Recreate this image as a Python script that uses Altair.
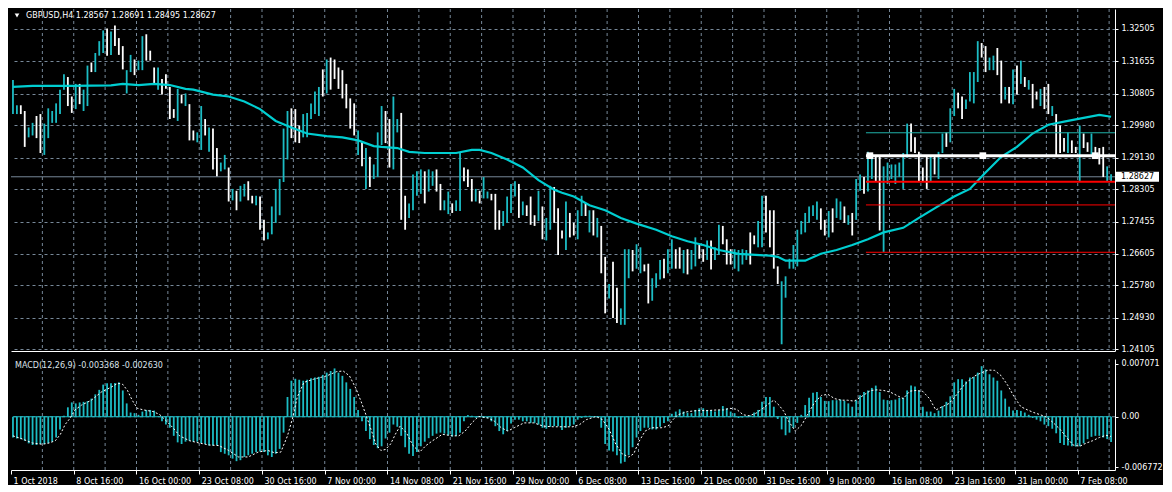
import altair as alt
import pandas as pd

# ---------------- data ----------------
# one entry per 8-hour slot (two H4 bars), high / low in price units
HIGH = [
    1.3116, 1.3050, 1.3050, 1.3035, 1.2992, 1.3004, 1.3022, 1.3027, 1.3002, 1.3042,
    1.3035, 1.3055, 1.3091, 1.3131, 1.3124, 1.3073, 1.3106, 1.3106, 1.3091, 1.3154,
    1.3162, 1.3187, 1.3218, 1.3246, 1.3251, 1.3243, 1.3259, 1.3226, 1.3205, 1.3142,
    1.3182, 1.3170, 1.3167, 1.3231, 1.3236, 1.3193, 1.3149, 1.3149, 1.3119, 1.3131,
    1.3098, 1.3040, 1.3093, 1.3078, 1.3081, 1.3053, 1.2984, 1.2979, 1.3048, 1.3014,
    1.2992, 1.2989, 1.2938, 1.2900, 1.2920, 1.2887, 1.2831, 1.2826, 1.2839, 1.2844,
    1.2851, 1.2813, 1.2813, 1.2811, 1.2750, 1.2717, 1.2785, 1.2831, 1.2857, 1.2989,
    1.3035, 1.3042, 1.3040, 1.2997, 1.3027, 1.3030, 1.3055, 1.3086, 1.3098, 1.3144,
    1.3170, 1.3175, 1.3170, 1.3149, 1.3142, 1.3106, 1.3068, 1.3055, 1.2984, 1.2953,
    1.2938, 1.2915, 1.2895, 1.2979, 1.3048, 1.3035, 1.3014, 1.3073, 1.3014, 1.3030,
    1.2813, 1.2793, 1.2869, 1.2877, 1.2882, 1.2877, 1.2882, 1.2877, 1.2882, 1.2844,
    1.2801, 1.2824, 1.2793, 1.2801, 1.2925, 1.2887, 1.2882, 1.2857, 1.2831, 1.2826,
    1.2862, 1.2824, 1.2818, 1.2818, 1.2775, 1.2773, 1.2811, 1.2844, 1.2851, 1.2844,
    1.2798, 1.2788, 1.2811, 1.2762, 1.2826, 1.2785, 1.2755, 1.2839, 1.2836, 1.2780,
    1.2722, 1.2798, 1.2768, 1.2742, 1.2775, 1.2813, 1.2793, 1.2775, 1.2775, 1.2755,
    1.2734, 1.2653, 1.2582, 1.2640, 1.2572, 1.2518, 1.2673, 1.2673, 1.2671, 1.2686,
    1.2678, 1.2633, 1.2635, 1.2597, 1.2610, 1.2645, 1.2648, 1.2673, 1.2699, 1.2673,
    1.2678, 1.2671, 1.2673, 1.2671, 1.2704, 1.2684, 1.2673, 1.2696, 1.2696, 1.2678,
    1.2737, 1.2734, 1.2699, 1.2673, 1.2673, 1.2671, 1.2673, 1.2671, 1.2717, 1.2709,
    1.2747, 1.2813, 1.2813, 1.2775, 1.2775, 1.2628, 1.2589, 1.2602, 1.2648, 1.2684,
    1.2724, 1.2747, 1.2768, 1.2785, 1.2788, 1.2798, 1.2780, 1.2750, 1.2773, 1.2780,
    1.2806, 1.2798, 1.2785, 1.2762, 1.2768, 1.2857, 1.2869, 1.2862, 1.2928, 1.2915,
    1.2920, 1.2915, 1.2890, 1.2900, 1.2895, 1.2895, 1.2900, 1.2925, 1.3002, 1.3002,
    1.2966, 1.2928, 1.2887, 1.2915, 1.2915, 1.2915, 1.2928, 1.2976, 1.2979, 1.3042,
    1.3093, 1.3083, 1.3073, 1.3065, 1.3137, 1.3137, 1.3218, 1.3213, 1.3205, 1.3175,
    1.3180, 1.3200, 1.3167, 1.3098, 1.3098, 1.3144, 1.3154, 1.3167, 1.3124, 1.3116,
    1.3106, 1.3086, 1.3093, 1.3098, 1.3106, 1.3048, 1.3027, 1.2997, 1.2964, 1.2979,
    1.2958, 1.2941, 1.2997, 1.2976, 1.2953, 1.2976, 1.2941, 1.2938, 1.2941, 1.2890,
    1.28691,
]
LOW = [
    1.3027, 1.3027, 1.3027, 1.2941, 1.2966, 1.2971, 1.2964, 1.2925, 1.2920, 1.2964,
    1.3004, 1.3004, 1.3027, 1.3091, 1.3048, 1.3030, 1.3040, 1.3053, 1.3035, 1.3048,
    1.3137, 1.3137, 1.3180, 1.3187, 1.3180, 1.3182, 1.3205, 1.3182, 1.3144, 1.3081,
    1.3137, 1.3129, 1.3142, 1.3142, 1.3167, 1.3167, 1.3106, 1.3091, 1.3078, 1.3093,
    1.3014, 1.3017, 1.3009, 1.3055, 1.3048, 1.2958, 1.2958, 1.2953, 1.2933, 1.2971,
    1.2928, 1.2882, 1.2864, 1.2877, 1.2882, 1.2798, 1.2801, 1.2775, 1.2798, 1.2811,
    1.2801, 1.2793, 1.2788, 1.2724, 1.2696, 1.2699, 1.2712, 1.2742, 1.2762, 1.2849,
    1.2908, 1.2964, 1.2953, 1.2951, 1.2966, 1.2966, 1.3014, 1.3027, 1.3022, 1.3073,
    1.3081, 1.3091, 1.3119, 1.3093, 1.3068, 1.3042, 1.2989, 1.2971, 1.2920, 1.2890,
    1.2831, 1.2836, 1.2857, 1.2862, 1.2946, 1.2951, 1.2887, 1.2882, 1.2979, 1.2750,
    1.2724, 1.2755, 1.2775, 1.2813, 1.2818, 1.2793, 1.2824, 1.2839, 1.2824, 1.2775,
    1.2775, 1.2765, 1.2768, 1.2773, 1.2773, 1.2851, 1.2836, 1.2798, 1.2798, 1.2793,
    1.2806, 1.2806, 1.2801, 1.2724, 1.2724, 1.2734, 1.2742, 1.2768, 1.2811, 1.2755,
    1.2762, 1.2760, 1.2737, 1.2734, 1.2747, 1.2699, 1.2696, 1.2724, 1.2742, 1.2658,
    1.2701, 1.2671, 1.2704, 1.2709, 1.2699, 1.2760, 1.2760, 1.2717, 1.2709, 1.2704,
    1.2610, 1.2505, 1.2544, 1.2493, 1.2480, 1.2475, 1.2475, 1.2597, 1.2615, 1.2622,
    1.2610, 1.2615, 1.2531, 1.2538, 1.2572, 1.2594, 1.2597, 1.2610, 1.2622, 1.2622,
    1.2622, 1.2610, 1.2607, 1.2620, 1.2628, 1.2648, 1.2640, 1.2645, 1.2620, 1.2645,
    1.2658, 1.2686, 1.2633, 1.2633, 1.2622, 1.2615, 1.2633, 1.2645, 1.2633, 1.2686,
    1.2678, 1.2678, 1.2717, 1.2678, 1.2622, 1.2582, 1.2424, 1.2546, 1.2622, 1.2622,
    1.2628, 1.2712, 1.2717, 1.2742, 1.2760, 1.2750, 1.2724, 1.2709, 1.2704, 1.2717,
    1.2755, 1.2750, 1.2742, 1.2737, 1.2709, 1.2750, 1.2826, 1.2818, 1.2824, 1.2857,
    1.2851, 1.2722, 1.2666, 1.2844, 1.2857, 1.2844, 1.2862, 1.2831, 1.2913, 1.2928,
    1.2925, 1.2851, 1.2849, 1.2831, 1.2851, 1.2869, 1.2857, 1.2925, 1.2941, 1.2953,
    1.3022, 1.3042, 1.3014, 1.3040, 1.3060, 1.3055, 1.3111, 1.3175, 1.3137, 1.3142,
    1.3142, 1.3129, 1.3055, 1.3065, 1.3055, 1.3053, 1.3078, 1.3106, 1.3098, 1.3091,
    1.3042, 1.3065, 1.3048, 1.3040, 1.3027, 1.3022, 1.2920, 1.2925, 1.2928, 1.2925,
    1.2925, 1.2925, 1.2851, 1.2938, 1.2928, 1.2920, 1.2915, 1.2895, 1.2862, 1.2849,
    1.28495,
]
# u = bullish bar (cyan), d = bearish bar (white)
DIRS = list("".join([
    "uudduudduu", "uuuudduduu", "duuududddu", "uduudddudd", "ddududduud",
    "udduududuu", "ddudduuuuu", "uddduuuuud", "udddddddud", "uduuudduud",
    "duuuuduudd", "uuduudddud", "uuddduuuud", "uddduduudd", "dudduududu",
    "ddudduuudu", "udduuuduud", "duduuddudu", "uddduuuudd", "uudddduuuu",
    "uuuuuuddud", "uududuuduu", "dduuuuuuud", "dddduduudu", "udduuuuddu",
    "uddudududu", "dduddudddu", "dduddudddu", "u",
]))

# moving average (slot, price)
MA_I = [0, 5, 15, 25, 28, 32, 36, 40, 44, 46, 51, 55, 59, 63, 67, 71, 75, 80, 84, 88,
        92, 94, 98, 101, 105, 109, 113, 117, 119, 122, 126, 130, 134, 138, 140, 143, 147, 151, 155, 159,
        164, 168, 172, 176, 180, 185, 193, 195, 197, 202, 206, 210, 214, 218, 222, 227, 231, 235, 240, 244,
        248, 252, 256, 260, 264, 269, 273, 277, 280]
MA_V = [1.3098, 1.3101, 1.3101, 1.3102, 1.3106, 1.3103, 1.3106, 1.3103, 1.3093, 1.3091,
        1.3078, 1.3073, 1.3060, 1.3040, 1.3009, 1.2992, 1.2976, 1.2969, 1.2966, 1.2958,
        1.2943, 1.2941, 1.2938, 1.2928, 1.2925, 1.2925, 1.2925, 1.2933, 1.2933, 1.2925,
        1.2908, 1.2887, 1.2854, 1.2829, 1.2821, 1.2811, 1.2788, 1.2775, 1.2755, 1.2740,
        1.2724, 1.2707, 1.2694, 1.2684, 1.2671, 1.2661, 1.2656, 1.2653, 1.2643, 1.2643,
        1.2661, 1.2671, 1.2684, 1.2699, 1.2717, 1.2729, 1.2755, 1.2780, 1.2811, 1.2831,
        1.2874, 1.2915, 1.2941, 1.2976, 1.2999, 1.3009, 1.3017, 1.3025, 1.3020]

# MACD main (histogram), one per slot
MACD = [
    -0.00277, -0.00290, -0.00299, -0.00320, -0.00355, -0.00377, -0.00377, -0.00364, -0.00364, -0.00351,
    -0.00333, -0.00277, -0.00169, 0.00013, 0.00126, 0.00191, 0.00178, 0.00191, 0.00199, 0.00208,
    0.00242, 0.00299, 0.00359, 0.00429, 0.00446, 0.00446, 0.00450, 0.00459, 0.00351, 0.00178,
    0.00056, 0.00048, 0.00026, 0.00069, 0.00091, 0.00091, 0.00082, 0.00004, -0.00061, -0.00104,
    -0.00147, -0.00255, -0.00342, -0.00364, -0.00333, -0.00320, -0.00333, -0.00333, -0.00351, -0.00364,
    -0.00385, -0.00385, -0.00377, -0.00472, -0.00494, -0.00515, -0.00559, -0.00593, -0.00580, -0.00537,
    -0.00515, -0.00494, -0.00472, -0.00463, -0.00472, -0.00515, -0.00537, -0.00494, -0.00429, -0.00212,
    0.00264, 0.00481, 0.00507, 0.00494, 0.00481, 0.00494, 0.00515, 0.00524, 0.00533, 0.00559,
    0.00589, 0.00611, 0.00645, 0.00589, 0.00546, 0.00459, 0.00372, 0.00264, 0.00091, -0.00061,
    -0.00191, -0.00299, -0.00377, -0.00420, -0.00394, -0.00290, -0.00212, -0.00104, -0.00134, -0.00255,
    -0.00407, -0.00494, -0.00524, -0.00472, -0.00394, -0.00333, -0.00286, -0.00255, -0.00225, -0.00212,
    -0.00225, -0.00247, -0.00264, -0.00255, -0.00212, -0.00061, 0.00022, 0.00013, -0.00013, -0.00004,
    -0.00017, -0.00022, -0.00061, -0.00126, -0.00191, -0.00234, -0.00191, -0.00091, -0.00039, -0.00039,
    -0.00061, -0.00061, -0.00082, -0.00082, -0.00104, -0.00147, -0.00160, -0.00134, -0.00126, -0.00126,
    -0.00178, -0.00147, -0.00126, -0.00104, -0.00039, -0.00017, 0.00013, 0.00013, -0.00004, 0.00004,
    -0.00147, -0.00364, -0.00450, -0.00463, -0.00515, -0.00624, -0.00602, -0.00515, -0.00407, -0.00277,
    -0.00191, -0.00147, -0.00147, -0.00169, -0.00169, -0.00134, -0.00082, -0.00061, 0.00039, 0.00069,
    0.00100, 0.00069, 0.00056, 0.00048, 0.00091, 0.00113, 0.00113, 0.00091, 0.00091, 0.00069,
    0.00091, 0.00143, 0.00113, 0.00069, 0.00048, -0.00017, -0.00009, 0.00004, 0.00017, 0.00056,
    0.00091, 0.00199, 0.00264, 0.00264, 0.00134, -0.00030, -0.00169, -0.00247, -0.00212, -0.00147,
    -0.00082, 0.00026, 0.00156, 0.00255, 0.00320, 0.00329, 0.00264, 0.00212, 0.00208, 0.00221,
    0.00221, 0.00229, 0.00212, 0.00178, 0.00134, 0.00221, 0.00286, 0.00329, 0.00351, 0.00385,
    0.00416, 0.00329, 0.00229, 0.00221, 0.00221, 0.00229, 0.00251, 0.00255, 0.00351, 0.00416,
    0.00403, 0.00351, 0.00134, 0.00069, 0.00069, 0.00048, 0.00082, 0.00143, 0.00199, 0.00273,
    0.00459, 0.00502, 0.00502, 0.00472, 0.00524, 0.00533, 0.00589, 0.00675, 0.00632, 0.00567,
    0.00524, 0.00481, 0.00351, 0.00242, 0.00134, 0.00082, 0.00091, 0.00078, 0.00056, 0.00026,
    -0.00017, -0.00039, -0.00061, -0.00104, -0.00126, -0.00160, -0.00221, -0.00351, -0.00377, -0.00385,
    -0.00394, -0.00398, -0.00394, -0.00355, -0.00299, -0.00268, -0.00255, -0.00255, -0.00277, -0.00299,
    -0.003368,
]

# MACD signal line (slot, value)
SIG_I = [0, 2.5, 5, 7.5, 9.2, 10.8, 12.1, 13.3, 14.6, 15.8,
         17.5, 20, 22.5, 25, 26.7, 27.9, 29.2, 30.4, 31.7, 33.3,
         35.8, 37.5, 39.2, 40.8, 42.5, 45, 47.5, 50, 52.5, 55,
         57.5, 60, 62.5, 65, 66.7, 68.3, 70, 71.3, 72.5, 74.2,
         76.7, 80, 82.5, 84.2, 85.8, 87.5, 88.8, 90, 91.3, 92.5,
         93.8, 95, 96.3, 97.5, 98.7, 100.3, 102, 103.7, 105.3, 107,
         109.5, 112, 113.7, 115.3, 117, 118.7, 121.2, 122.8, 124.5, 126.2,
         127.8, 130.3, 132.8, 135.3, 137.8, 140.3, 142.8, 144.5, 146.2, 148.7,
         150.3, 152, 153.7, 155.3, 157, 158.3, 159.5, 161.2, 162.8, 165.3,
         167, 168.3, 169.5, 172, 174.5, 177, 179.5, 181.2, 182.8, 184.5,
         186.2, 187.8, 189.5, 191.2, 192.8, 194, 195.3, 196.6, 197.8, 199.5,
         201.2, 202.8, 204.5, 206.2, 207.8, 209.5, 211.2, 212.8, 214.5, 216.2,
         218.7, 220.3, 222, 223.7, 225.3, 227, 228.7, 230.3, 232, 233.7,
         235.3, 237, 238.7, 240.3, 242, 243.7, 245.3, 247, 248.7, 250.3,
         252, 253.7, 255.3, 257, 258.7, 260.3, 262, 263.7, 265.3, 267,
         268.7, 270.3, 272, 273.7, 275.3, 277, 278.7, 280]
SIG_V = [-0.00255, -0.00299, -0.00351, -0.00368, -0.00351, -0.00320, -0.00234, -0.00104, -0.00017, 0.00091,
         0.00156, 0.00221, 0.00329, 0.00394, 0.00446, 0.00437, 0.00351, 0.00221, 0.00113, 0.00091,
         0.00069, 0.00026, -0.00061, -0.00147, -0.00255, -0.00320, -0.00351, -0.00377, -0.00385, -0.00450,
         -0.00537, -0.00537, -0.00472, -0.00450, -0.00481, -0.00472, -0.00255, -0.00017, 0.00264, 0.00459,
         0.00502, 0.00546, 0.00602, 0.00611, 0.00546, 0.00372, 0.00199, 0.00026, -0.00169, -0.00364,
         -0.00450, -0.00437, -0.00364, -0.00234, -0.00126, -0.00212, -0.00385, -0.00472, -0.00385, -0.00320,
         -0.00234, -0.00255, -0.00255, -0.00191, -0.00082, 0.00004, -0.00017, -0.00061, -0.00147, -0.00191,
         -0.00147, -0.00082, -0.00082, -0.00126, -0.00134, -0.00134, -0.00134, -0.00104, -0.00039, 0.00004,
         -0.00039, -0.00169, -0.00364, -0.00494, -0.00537, -0.00494, -0.00342, -0.00191, -0.00147, -0.00147,
         -0.00126, -0.00039, 0.00026, 0.00069, 0.00082, 0.00082, 0.00091, 0.00091, 0.00113, 0.00100,
         0.00026, 0.00013, 0.00048, 0.00113, 0.00178, 0.00221, 0.00156, 0.00069, -0.00061, -0.00191,
         -0.00104, 0.00048, 0.00199, 0.00286, 0.00299, 0.00242, 0.00221, 0.00221, 0.00208, 0.00264,
         0.00351, 0.00359, 0.00351, 0.00329, 0.00286, 0.00242, 0.00342, 0.00351, 0.00338, 0.00242,
         0.00091, 0.00134, 0.00178, 0.00273, 0.00394, 0.00481, 0.00546, 0.00589, 0.00624, 0.00619,
         0.00546, 0.00416, 0.00264, 0.00134, 0.00091, 0.00056, 0.00026, -0.00009, -0.00082, -0.00169,
         -0.00277, -0.00377, -0.00394, -0.00351, -0.00320, -0.00277, -0.00247, -0.00263]

PRICE_TICKS = [1.32505, 1.31655, 1.30805, 1.29980, 1.29130, 1.28305,
               1.27455, 1.26605, 1.25780, 1.24930, 1.24105]
MACD_TICKS = [0.007071, 0.0, -0.006772]
TIME_LABELS = ["1 Oct 2018", "8 Oct 16:00", "16 Oct 00:00", "23 Oct 08:00", "30 Oct 16:00",
               "7 Nov 00:00", "14 Nov 08:00", "21 Nov 16:00", "29 Nov 00:00", "6 Dec 08:00",
               "13 Dec 16:00", "21 Dec 00:00", "31 Dec 16:00", "9 Jan 00:00", "16 Jan 08:00",
               "23 Jan 16:00", "31 Jan 00:00", "7 Feb 08:00"]
LAST_OHLC = [1.28567, 1.28691, 1.28495, 1.28627]
MACD_LAST = [-0.003368, -0.002630]

# drawn objects: horizontal levels starting at a slot
OBJ_START = 217.5
WHITE_LEVEL = [1.2918]
WHITE_ANCHORS = [218.5, 247.3, 276.0]
CYAN_LEVEL = [1.2978]
RED_THICK = [1.2850]
RED_THIN = [1.2789, 1.2665]

# ---------------- styling / layout ----------------
W, HP, HM = 1104, 342, 111
N = len(HIGH)
X_DOM = [-0.5, 281.0]
P_DOM = [1.24064, 1.33022]
M_DOM = [-0.00711, 0.00771]
BAR_C = "#1cbcc4"
MA_C = "#00ced1"
GRID = "#778899"
FONT = "DejaVu Sans"
FS = 8

xs = alt.Scale(domain=X_DOM, nice=False, zero=False)
ps = alt.Scale(domain=P_DOM, nice=False, zero=False)
ms = alt.Scale(domain=M_DOM, nice=False, zero=False)

ax_px = alt.Axis(domainColor="#ffffff", labels=False, ticks=False, grid=False, title=None)
ax_py = alt.Axis(orient="right", values=PRICE_TICKS, format=".5f", grid=True, gridColor=GRID,
                 gridDash=[3, 3], gridWidth=1, domainColor="#ffffff", tickColor="#ffffff", tickSize=3,
                 labelColor="#ffffff", labelFont=FONT, labelFontSize=FS, labelPadding=3,
                 title=None, labelOverlap=False)

lab_arr = "[" + ",".join("'" + t + "'" for t in TIME_LABELS) + "]"
ax_mx = alt.Axis(orient="bottom", values=[16 * k - 0.5 for k in range(len(TIME_LABELS))],
                 labelExpr=lab_arr + "[round((datum.value + 0.5) / 16)]",
                 labelAlign="left", labelBaseline="top", labelOffset=2, labelPadding=3,
                 tickSize=4, tickColor="#ffffff", domainColor="#ffffff", labelColor="#ffffff",
                 labelFont=FONT, labelFontSize=FS, grid=False, title=None,
                 labelOverlap=False, labelFlush=False, labelBound=False)
ax_my = alt.Axis(orient="right", values=MACD_TICKS,
                 labelExpr="datum.value == 0 ? '0.00' : replace(format(datum.value, '.6f'), '\u2212', '-')",
                 grid=False, domainColor="#ffffff", tickColor="#ffffff", tickSize=3,
                 labelColor="#ffffff", labelFont=FONT, labelFontSize=FS, labelPadding=3,
                 title=None, labelOverlap=False)

bars = pd.DataFrame({"i": list(range(N)), "hi": HIGH, "lo": LOW, "dir": DIRS, "m": MACD})
bars["z"] = 0.0
vgrid_df = pd.DataFrame({"gx": [8 * k - 0.5 for k in range(1, 36)]})
ma_df = pd.DataFrame({"i": MA_I, "v": MA_V})
sig_df = pd.DataFrame({"i": SIG_I, "v": SIG_V})


def level_df(levels):
    return pd.DataFrame({"p": levels, "s": [OBJ_START] * len(levels), "e": [X_DOM[1]] * len(levels)})


def level_layer(levels, color, width):
    return alt.Chart(level_df(levels)).mark_rule(color=color, strokeWidth=width).encode(
        x=alt.X("s:Q", scale=xs, axis=ax_px), x2=alt.X2("e"),
        y=alt.Y("p:Q", scale=ps, axis=ax_py))


# ---------------- price panel ----------------
vgrid_p = alt.Chart(vgrid_df).mark_rule(color=GRID, strokeDash=[3, 3], strokeWidth=1).encode(
    x=alt.X("gx:Q", scale=xs, axis=ax_px))
cur_line = alt.Chart(pd.DataFrame({"p": [LAST_OHLC[3]]})).mark_rule(color=GRID, strokeWidth=1).encode(
    y=alt.Y("p:Q", scale=ps, axis=ax_py))
bar_layer = alt.Chart(bars).mark_rule(strokeWidth=1.8).encode(
    x=alt.X("i:Q", scale=xs, axis=ax_px),
    y=alt.Y("hi:Q", scale=ps, axis=ax_py), y2=alt.Y2("lo"),
    color=alt.Color("dir:N", scale=alt.Scale(domain=["u", "d"], range=[BAR_C, "#ffffff"]), legend=None))
ma_layer = alt.Chart(ma_df).mark_line(color=MA_C, strokeWidth=2.2).encode(
    x=alt.X("i:Q", scale=xs, axis=ax_px), y=alt.Y("v:Q", scale=ps, axis=ax_py))
cyan_lv = level_layer(CYAN_LEVEL, "#20b2aa", 1)
red_thin = level_layer(RED_THIN, "#ff0000", 1)
red_thick = level_layer(RED_THICK, "#ff0000", 2)
white_lv = level_layer(WHITE_LEVEL, "#ffffff", 3)
anchors = alt.Chart(pd.DataFrame({"a": WHITE_ANCHORS, "p": WHITE_LEVEL * len(WHITE_ANCHORS)})).mark_square(
    size=45, color="#ffffff", opacity=1, filled=True).encode(
    x=alt.X("a:Q", scale=xs, axis=ax_px), y=alt.Y("p:Q", scale=ps, axis=ax_py))

title_txt = "GBPUSD,H4  " + " ".join(f"{v:.5f}" for v in LAST_OHLC)
header = alt.Chart(pd.DataFrame({"t": [title_txt]})).mark_text(
    align="left", baseline="middle", font=FONT, fontSize=FS, color="#ffffff").encode(
    x=alt.value(15), y=alt.value(7), text="t:N")
tri = alt.Chart(pd.DataFrame({"t": [0]})).mark_point(
    shape="triangle-down", size=22, filled=True, color="#ffffff", opacity=1).encode(
    x=alt.value(6), y=alt.value(6.5))

box = alt.Chart(pd.DataFrame({"p": [LAST_OHLC[3]]})).mark_rect(
    color="#ffffff", yOffset=-5, y2Offset=5).encode(
    x=alt.value(W + 1), x2=alt.value(W + 44),
    y=alt.Y("p:Q", scale=ps, axis=ax_py), y2=alt.Y2("p"))
box_txt = alt.Chart(pd.DataFrame({"p": [LAST_OHLC[3]], "t": [f"{LAST_OHLC[3]:.5f}"]})).mark_text(
    align="left", baseline="middle", font=FONT, fontSize=FS, color="#000000").encode(
    x=alt.value(W + 6), y=alt.Y("p:Q", scale=ps, axis=ax_py), text="t:N")

price = alt.layer(vgrid_p, cur_line, bar_layer, ma_layer, cyan_lv, red_thin, red_thick,
                  white_lv, anchors, header, tri, box, box_txt).properties(width=W, height=HP)

# ---------------- MACD panel ----------------
vgrid_m = alt.Chart(vgrid_df).mark_rule(color=GRID, strokeDash=[3, 3], strokeWidth=1).encode(
    x=alt.X("gx:Q", scale=xs, axis=ax_mx))
zero_grid = alt.Chart(pd.DataFrame({"z": [0.0]})).mark_rule(color=GRID, strokeDash=[3, 3]).encode(
    y=alt.Y("z:Q", scale=ms, axis=ax_my))
zero_line = alt.Chart(pd.DataFrame({"a": [0], "b": [N - 1], "z": [0.0]})).mark_rule(
    color=BAR_C, strokeWidth=1).encode(
    x=alt.X("a:Q", scale=xs, axis=ax_mx), x2=alt.X2("b"), y=alt.Y("z:Q", scale=ms, axis=ax_my))
hist = alt.Chart(bars).mark_rule(color=BAR_C, strokeWidth=1.8).encode(
    x=alt.X("i:Q", scale=xs, axis=ax_mx), y=alt.Y("m:Q", scale=ms, axis=ax_my), y2=alt.Y2("z"))
sig = alt.Chart(sig_df).mark_line(color="#ffffff", strokeWidth=1, strokeDash=[2, 2]).encode(
    x=alt.X("i:Q", scale=xs, axis=ax_mx), y=alt.Y("v:Q", scale=ms, axis=ax_my))
macd_title = "MACD(12,26,9) " + " ".join(f"{v:.6f}" for v in MACD_LAST)
mtitle = alt.Chart(pd.DataFrame({"t": [macd_title]})).mark_text(
    align="left", baseline="middle", font=FONT, fontSize=FS, color="#dde3ea").encode(
    x=alt.value(4), y=alt.value(7), text="t:N")

macd = alt.layer(vgrid_m, zero_grid, zero_line, hist, sig, mtitle).properties(width=W, height=HM)

chart = alt.vconcat(price, macd, spacing=4).properties(
    background="#000000", padding=0).configure_view(stroke=None)

chart.save("out.html", embed_options={"renderer": "svg", "actions": False})
